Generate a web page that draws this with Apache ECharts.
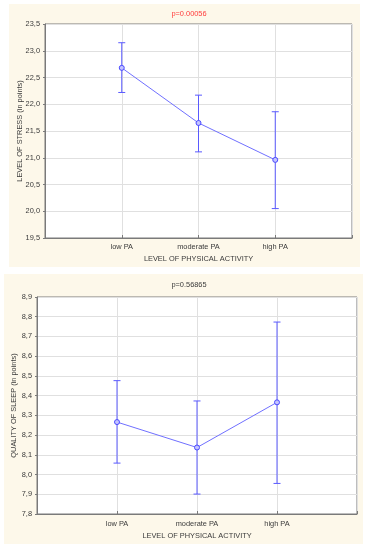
<!DOCTYPE html>
<html><head><meta charset="utf-8">
<script src="https://cdn.jsdelivr.net/npm/echarts@6/dist/echarts.min.js"></script>
<style>html,body{margin:0;padding:0;background:#fff}#c{width:368px;height:550px}</style>
</head><body><div id="c"></div>
<script>
// ---- data ----
const categories = ['low PA', 'moderate PA', 'high PA'];
const stressMean  = [22.68, 21.65, 20.96];
const stressUpper = [23.15, 22.17, 21.86];
const stressLower = [22.22, 21.11, 20.05];
const sleepMean  = [8.266, 8.137, 8.366];
const sleepUpper = [8.476, 8.373, 8.773];
const sleepLower = [8.058, 7.901, 7.955];
const stressTicks = {min: 19.5, max: 23.5, interval: 0.5};
const sleepTicks = {min: 7.8, max: 8.9, interval: 0.1};
const title1 = 'p=0.00056';
const title2 = 'p=0.56865';

// padded categories (empty slot on each side)
const cats = [''].concat(categories, ['']);
const pad = a => [null].concat(a, [null]);
const errData = (lo, hi) => lo.map((v, i) => [i + 1, lo[i], hi[i]]);

const FONT = 'Liberation Sans';
const TXT = '#3a3a3a';
const BLUE = '#5a5aff';
const fmt = d => v => v.toFixed(d).replace('.', ',');

function xAxisCfg(gi, gap, margin) {
  return {
    gridIndex: gi, type: 'category', data: cats, boundaryGap: false,
    name: 'LEVEL OF PHYSICAL ACTIVITY', nameLocation: 'middle', nameGap: gap,
    nameMoveOverlap: false,
    nameTextStyle: {fontFamily: FONT, fontSize: 7.4, color: TXT},
    axisLine: {lineStyle: {color: '#7a7a7a'}},
    axisTick: {show: true, inside: true, length: 3, lineStyle: {color: '#7a7a7a'}},
    axisLabel: {fontFamily: FONT, fontSize: 7.4, color: TXT, margin: margin, interval: 0},
    splitLine: {show: true, lineStyle: {color: '#e0e0e0', width: 1}}
  };
}
function yAxisCfg(gi, name, t, dec, gap) {
  return {
    gridIndex: gi, type: 'value', min: t.min, max: t.max, interval: t.interval,
    name: name, nameLocation: 'middle', nameGap: gap, nameRotate: 90,
    nameMoveOverlap: false,
    nameTextStyle: {fontFamily: FONT, fontSize: 7.4, color: TXT},
    axisLine: {show: true, lineStyle: {color: '#7a7a7a'}},
    axisTick: {show: true, length: 2, lineStyle: {color: '#7a7a7a'}},
    axisLabel: {fontFamily: FONT, fontSize: 7.4, color: TXT, margin: 5, formatter: fmt(dec)},
    splitLine: {show: true, lineStyle: {color: '#e0e0e0', width: 1}}
  };
}
function errSeries(xi, lo, hi) {
  return {
    type: 'custom', xAxisIndex: xi, yAxisIndex: xi, z: 3,
    data: errData(lo, hi),
    renderItem: function (params, api) {
      const x = api.value(0);
      const top = api.coord([x, api.value(2)]);
      const bot = api.coord([x, api.value(1)]);
      const w = 3.5;
      const st = {stroke: BLUE, lineWidth: 1, fill: null};
      return {type: 'group', children: [
        {type: 'line', shape: {x1: top[0], y1: top[1], x2: bot[0], y2: bot[1]}, style: st},
        {type: 'line', shape: {x1: top[0] - w, y1: top[1], x2: top[0] + w, y2: top[1]}, style: st},
        {type: 'line', shape: {x1: bot[0] - w, y1: bot[1], x2: bot[0] + w, y2: bot[1]}, style: st}
      ]};
    }
  };
}
function lineSeries(xi, data) {
  return {
    type: 'line', xAxisIndex: xi, yAxisIndex: xi, z: 4, data: pad(data),
    symbol: 'circle', symbolSize: 5, connectNulls: false,
    lineStyle: {color: '#7070ff', width: 1},
    itemStyle: {color: '#c4c4ff', borderColor: '#4a4aff', borderWidth: 1},
    emphasis: {disabled: true}, animation: false
  };
}

const chart = echarts.init(document.getElementById('c'), null, {renderer: 'canvas'});
chart.setOption({
  animation: false,
  backgroundColor: '#ffffff',
  graphic: [
    {type: 'rect', z: -10, shape: {x: 9, y: 4, width: 351, height: 263}, style: {fill: '#fdf8ea'}},
    {type: 'rect', z: -10, shape: {x: 4, y: 274, width: 359, height: 270}, style: {fill: '#fdf8ea'}}
  ],
  title: [
    {text: title1, left: 184, top: 5, textAlign: 'center',
     textStyle: {fontFamily: FONT, fontSize: 7.4, fontWeight: 'normal', color: '#ff3b3b'}},
    {text: title2, left: 184, top: 276, textAlign: 'center',
     textStyle: {fontFamily: FONT, fontSize: 7.4, fontWeight: 'normal', color: TXT}}
  ],
  grid: [
    {left: 45, right: 16, top: 24, bottom: 312, show: true, backgroundColor: '#ffffff', borderColor: '#7a7a7a', borderWidth: 1},
    {left: 37, right: 11, top: 297, bottom: 36, show: true, backgroundColor: '#ffffff', borderColor: '#7a7a7a', borderWidth: 1}
  ],
  xAxis: [xAxisCfg(0, 17, 5), xAxisCfg(1, 18, 6)],
  yAxis: [
    yAxisCfg(0, 'LEVEL OF STRESS (in points)', stressTicks, 1, 22),
    yAxisCfg(1, 'QUALITY OF SLEEP (in points)', sleepTicks, 1, 20)
  ],
  series: [
    errSeries(0, stressLower, stressUpper),
    lineSeries(0, stressMean),
    errSeries(1, sleepLower, sleepUpper),
    lineSeries(1, sleepMean)
  ]
});
</script></body></html>
